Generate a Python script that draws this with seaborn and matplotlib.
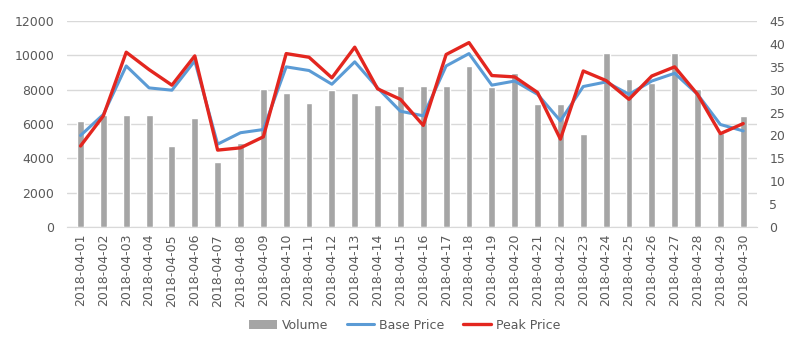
import numpy as np
import pandas as pd
import matplotlib
matplotlib.use("Agg")
import matplotlib.pyplot as plt
import seaborn as sns
from matplotlib.patches import Patch
from matplotlib.lines import Line2D

# Data
dates = [f"2018-04-{d:02d}" for d in range(1, 31)]
volume = [6200, 6500, 6550, 6550, 4700, 6370, 3800, 4900, 8020, 7830,
          7240, 7960, 7830, 7090, 8200, 8200, 8200, 9380, 8150, 9000,
          7150, 7150, 5440, 10150, 8600, 8400, 10120, 8020, 5500, 6450]
base_price = [20.0, 24.6, 35.2, 30.4, 29.9, 36.3, 18.1, 20.6, 21.3, 35.0,
              34.2, 31.2, 36.1, 30.4, 25.3, 24.3, 35.2, 37.9, 31.0, 31.9,
              29.0, 23.2, 30.7, 31.7, 29.0, 31.9, 33.6, 29.0, 22.4, 21.0]
peak_price = [17.7, 24.3, 38.2, 34.4, 31.0, 37.4, 16.8, 17.3, 19.7, 37.9,
              37.1, 32.6, 39.3, 30.2, 27.9, 22.2, 37.7, 40.3, 33.1, 32.8,
              29.4, 19.2, 34.1, 32.0, 27.9, 33.0, 35.0, 29.0, 20.4, 22.6]

df = pd.DataFrame({"Date": dates, "Volume": volume,
                   "Base Price": base_price, "Peak Price": peak_price})

bar_color = "#A5A5A5"
blue = "#5B9BD5"
red = "#E3261F"
text_color = "#595959"

sns.set_style("white")
plt.rcParams["font.family"] = ["DejaVu Sans"]

fig = plt.figure(figsize=(7.86, 3.46), dpi=100)
ax = fig.add_axes([0.085, 0.344, 0.878, 0.595])

sns.barplot(data=df, x="Date", y="Volume", color=bar_color, width=0.3,
            saturation=1, ax=ax, zorder=2)
ax.set_ylim(0, 12000)
ax.set_yticks(range(0, 12001, 2000))
ax.yaxis.grid(True, color="#D9D9D9", linewidth=1, zorder=0)
ax.set_axisbelow(True)
ax.set_xlabel("")
ax.set_ylabel("")
ax.tick_params(axis="x", labelrotation=90, length=0, pad=5,
               labelsize=9, labelcolor=text_color)
ax.tick_params(axis="y", length=0, pad=9, labelsize=9, labelcolor=text_color)
for s in ax.spines.values():
    s.set_visible(False)
ax.spines["bottom"].set_visible(True)
ax.spines["bottom"].set_color("#D9D9D9")
ax.set_xlim(-0.6, len(dates) - 0.4)

ax2 = ax.twinx()
sns.lineplot(data=df, x="Date", y="Base Price", color=blue, linewidth=2.2,
             ax=ax2, sort=False)
sns.lineplot(data=df, x="Date", y="Peak Price", color=red, linewidth=2.4,
             ax=ax2, sort=False)
ax2.set_ylim(0, 45)
ax2.set_yticks(range(0, 46, 5))
ax2.set_ylabel("")
ax2.tick_params(axis="y", length=0, pad=9, labelsize=9, labelcolor=text_color)
for s in ax2.spines.values():
    s.set_visible(False)
ax2.set_xlim(-0.6, len(dates) - 0.4)

handles = [Patch(facecolor=bar_color, edgecolor="none"),
           Line2D([], [], color=blue, linewidth=2.2),
           Line2D([], [], color=red, linewidth=2.4)]
fig.legend(handles, ["Volume", "Base Price", "Peak Price"], loc="center",
           bbox_to_anchor=(0.515, 0.06), ncol=3, frameon=False,
           fontsize=9, labelcolor=text_color, handlelength=2.2,
           columnspacing=1.5, handletextpad=0.4)

fig.savefig("out.png", dpi=100)
